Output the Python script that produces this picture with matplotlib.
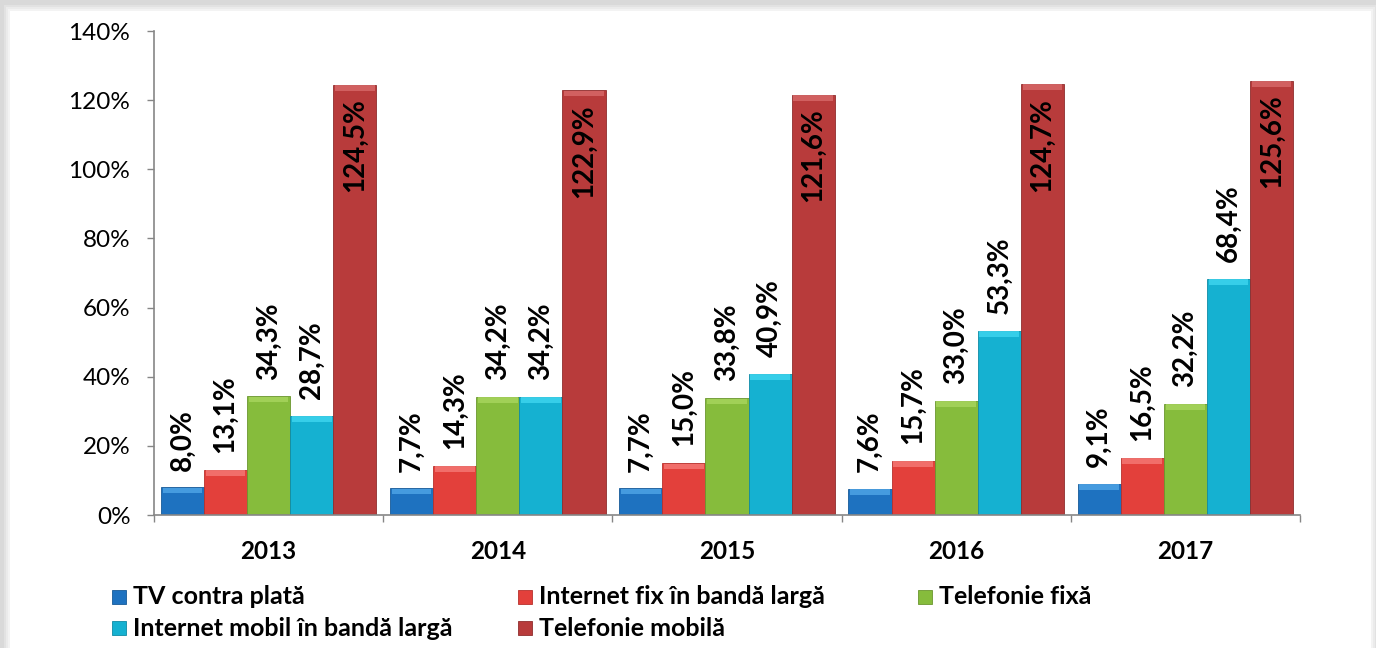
import matplotlib
matplotlib.use("Agg")
import matplotlib.pyplot as plt
from matplotlib.patches import Rectangle
import numpy as np

years = ["2013", "2014", "2015", "2016", "2017"]
series_names = ["TV contra plată", "Internet fix în bandă largă", "Telefonie fixă",
                "Internet mobil în bandă largă", "Telefonie mobilă"]
tv = [8.0, 7.7, 7.7, 7.6, 9.1]
internet_fix = [13.1, 14.3, 15.0, 15.7, 16.5]
telefonie_fixa = [34.3, 34.2, 33.8, 33.0, 32.2]
internet_mobil = [28.7, 34.2, 40.9, 53.3, 68.4]
telefonie_mobila = [124.5, 122.9, 121.6, 124.7, 125.6]
yticks = [0, 20, 40, 60, 80, 100, 120, 140]

series = [tv, internet_fix, telefonie_fixa, internet_mobil, telefonie_mobila]
colors = ["#1E72C0", "#E3403B", "#86BC3C", "#15B1D1", "#B83B3B"]
highlights = ["#4FA6E8", "#F57A76", "#A9D65E", "#3FD6F0", "#D86A6A"]
edges = ["#175A98", "#B7302C", "#6A962E", "#0F8BA5", "#8F2D2D"]

plt.rcParams['font.family'] = ['Lato', 'DejaVu Sans']

W, H = 1376, 648
fig = plt.figure(figsize=(W / 100, H / 100), dpi=100)
fig.patch.set_facecolor("#d9d9d9")
# soft shadow + white panel
for i, c in enumerate(["#e2e2e2", "#ebebeb", "#f3f3f3"]):
    d = 3 - i
    fig.patches.append(Rectangle(((10 - d * 2) / W, 0), (1361 + d * 4) / W, (637 + d * 2) / H,
                                 transform=fig.transFigure, facecolor=c, edgecolor="none", zorder=-12 + i))
fig.patches.append(Rectangle((10 / W, 0), 1361 / W, 637 / H, transform=fig.transFigure,
                             facecolor="white", edgecolor="none", zorder=-5))

ax = fig.add_axes([154 / W, 1 - 515 / H, (1300 - 154) / W, (515 - 31) / H])
ax.set_facecolor("none")
ax.set_zorder(1)

x = np.arange(len(years))
bw = 0.188
for i, (vals, c, hc, ec) in enumerate(zip(series, colors, highlights, edges)):
    pos = x + (i - 2) * bw
    ax.bar(pos, vals, width=bw, color=c, edgecolor=ec, linewidth=0.6, zorder=2)
    # top highlight (bevel look)
    hl = [min(1.6, v * 0.25) for v in vals]
    ax.bar(pos, hl, width=bw * 0.92, bottom=[v - h - 0.15 for v, h in zip(vals, hl)],
           color=hc, edgecolor="none", zorder=3, alpha=0.8)
    for p, v in zip(pos, vals):
        txt = f"{v:.1f}".replace(".", ",") + "%"
        if v > 100:
            ax.annotate(txt, (p, v), xytext=(0, -10), textcoords="offset points",
                        rotation=90, ha="center", va="top", fontsize=20,
                        fontweight="bold", color="black", zorder=4)
        else:
            ax.annotate(txt, (p, v), xytext=(0, 12), textcoords="offset points",
                        rotation=90, ha="center", va="bottom", fontsize=20,
                        fontweight="bold", color="black", zorder=4)

ax.set_xlim(-0.5, len(years) - 0.5)
ax.set_ylim(0, 140)
ax.set_yticks(yticks)
ax.set_yticklabels([f"{t}%" for t in yticks], fontsize=17.5)
ax.set_xticks(x)
ax.set_xticklabels(years, fontsize=17.5, fontweight="bold")
ax.set_xticks(np.arange(-0.5, len(years), 1.0), minor=True)
ax.tick_params(axis="x", which="major", length=0, pad=18)
ax.tick_params(axis="x", which="minor", length=5, color="#868686", width=1)
ax.tick_params(axis="y", length=5, color="#868686", width=1, pad=12)
for s in ["top", "right"]:
    ax.spines[s].set_visible(False)
for s in ["left", "bottom"]:
    ax.spines[s].set_color("#868686")
    ax.spines[s].set_linewidth(1.2)

# legend (Excel style, fixed columns)
leg_cols = [112, 518, 918]
leg_rows = [597, 628]
for k, (name, c, ec) in enumerate(zip(series_names, colors, edges)):
    r, col = divmod(k, 3)
    lx, ly = leg_cols[col], leg_rows[r]
    fig.patches.append(Rectangle((lx / W, 1 - (ly + 7) / H), 14 / W, 14 / H,
                                 transform=fig.transFigure, facecolor=c, edgecolor=ec,
                                 linewidth=0.6, zorder=3))
    fig.text((lx + 21) / W, 1 - ly / H, name, fontsize=18, fontweight="bold",
             va="center", ha="left")

fig.savefig("out.png", dpi=100)
